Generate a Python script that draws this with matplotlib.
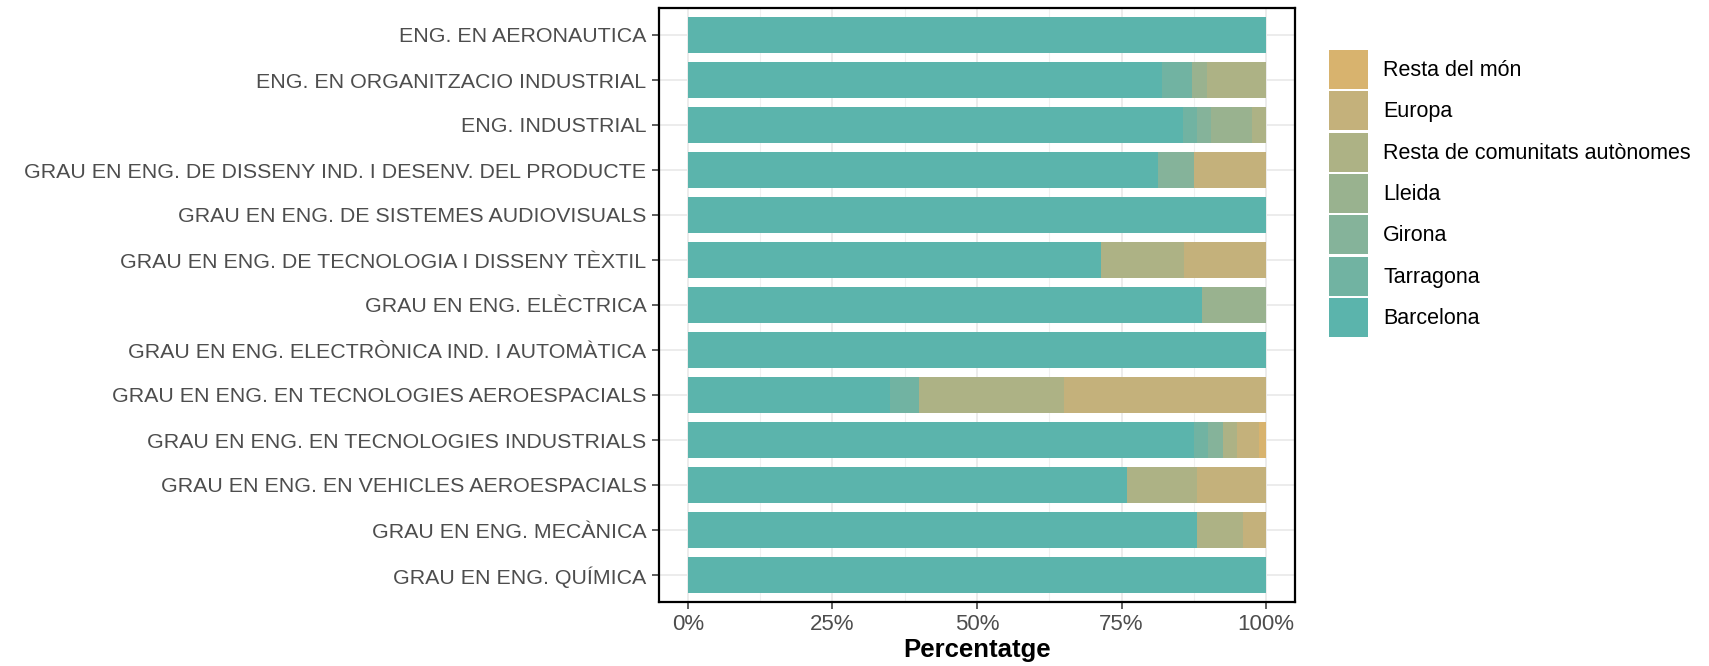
import numpy as np
import matplotlib.pyplot as plt
from matplotlib.patches import Patch

plt.rcParams['font.family'] = ['Liberation Sans', 'DejaVu Sans']

# Titulacions (de dalt a baix)
titulacions = [
    "ENG. EN AERONAUTICA",
    "ENG. EN ORGANITZACIO INDUSTRIAL",
    "ENG. INDUSTRIAL",
    "GRAU EN ENG. DE DISSENY IND. I DESENV. DEL PRODUCTE",
    "GRAU EN ENG. DE SISTEMES AUDIOVISUALS",
    "GRAU EN ENG. DE TECNOLOGIA I DISSENY TÈXTIL",
    "GRAU EN ENG. ELÈCTRICA",
    "GRAU EN ENG. ELECTRÒNICA IND. I AUTOMÀTICA",
    "GRAU EN ENG. EN TECNOLOGIES AEROESPACIALS",
    "GRAU EN ENG. EN TECNOLOGIES INDUSTRIALS",
    "GRAU EN ENG. EN VEHICLES AEROESPACIALS",
    "GRAU EN ENG. MECÀNICA",
    "GRAU EN ENG. QUÍMICA",
]

# Percentatges per procedència
barcelona = [100, 82.05, 85.71, 81.25, 100, 71.43, 88.89, 100, 35, 87.5, 76, 88, 100]
tarragona = [0, 5.13, 2.38, 0, 0, 0, 0, 0, 5, 2.5, 0, 0, 0]
girona = [0, 0, 2.38, 6.25, 0, 0, 0, 0, 0, 2.5, 0, 0, 0]
lleida = [0, 2.56, 7.14, 0, 0, 0, 11.11, 0, 0, 0, 0, 0, 0]
resta_ccaa = [0, 10.26, 2.38, 0, 0, 14.29, 0, 0, 25, 2.5, 12, 8, 0]
europa = [0, 0, 0, 12.5, 0, 14.29, 0, 0, 35, 3.75, 12, 4, 0]
resta_mon = [0, 0, 0, 0, 0, 0, 0, 0, 0, 1.25, 0, 0, 0]

series = [
    ("Barcelona", barcelona, "#5BB4AC"),
    ("Tarragona", tarragona, "#71B3A2"),
    ("Girona", girona, "#85B39A"),
    ("Lleida", lleida, "#99B28F"),
    ("Resta de comunitats autònomes", resta_ccaa, "#ADB285"),
    ("Europa", europa, "#C4B17B"),
    ("Resta del món", resta_mon, "#D8B36E"),
]

fig = plt.figure(figsize=(17.09, 6.66), dpi=100)
ax = fig.add_axes([659/1709, 1 - 602/666, (1295-659)/1709, (602-8)/666])

y = np.arange(len(titulacions))
left = np.zeros(len(titulacions))
for nom, vals, col in series:
    vals = np.array(vals, float)
    ax.barh(y, vals, left=left, height=0.8, color=col, edgecolor='none', zorder=2)
    left += vals

ax.set_xlim(-5, 105)
ax.set_ylim(len(titulacions) - 1 + 0.6, -0.6)
ax.set_yticks(y)
ax.set_yticklabels(titulacions)
ax.set_xticks([0, 25, 50, 75, 100])
ax.set_xticklabels(["0%", "25%", "50%", "75%", "100%"])
ax.set_xticks([12.5, 37.5, 62.5, 87.5], minor=True)

ax.grid(which='major', color='#EBEBEB', lw=1.3, zorder=0)
ax.grid(which='minor', axis='x', color='#F0F0F0', lw=0.8, zorder=0)
ax.set_axisbelow(True)
ax.tick_params(which='minor', length=0)
ax.tick_params(axis='y', labelsize=15.4, labelcolor='#4D4D4D', color='#333333', length=5, width=1.1, pad=4)
ax.tick_params(axis='x', labelsize=16, labelcolor='#4D4D4D', color='#333333', length=5, width=1.1, pad=4)
for s in ax.spines.values():
    s.set_color('black')
    s.set_linewidth(1.6)

ax.set_xlabel("Percentatge", fontsize=18.5, fontweight='bold', labelpad=2)

handles = [Patch(facecolor=col, edgecolor='none', label=nom) for nom, vals, col in series][::-1]
fig.legend(handles=handles, loc='upper left', bbox_to_anchor=(1329/1709, 1 - 50/666),
           frameon=False, fontsize=15.5, handlelength=1.81, handleheight=2.41,
           labelspacing=0.107, handletextpad=0.7, borderpad=0, borderaxespad=0)

fig.savefig("out.png", dpi=100)
